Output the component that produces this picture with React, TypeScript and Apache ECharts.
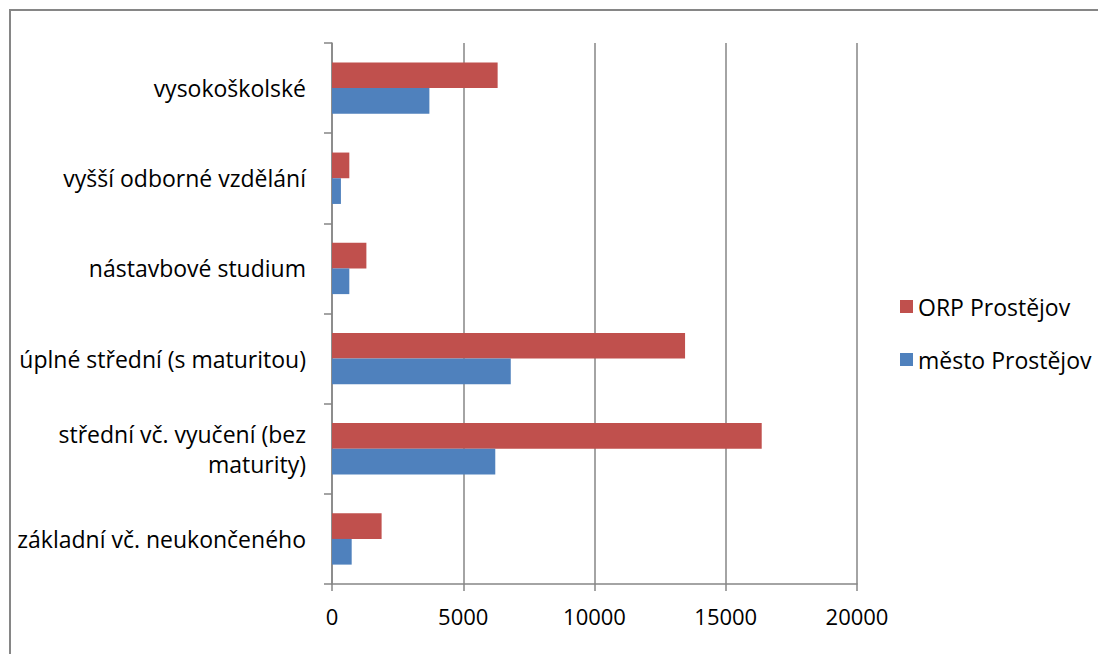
import React, { useEffect, useRef } from "react";
import * as echarts from "echarts";

const categories = [
  "základní vč. neukončeného",
  "střední vč. vyučení (bez\nmaturity)",
  "úplné střední (s maturitou)",
  "nástavbové studium",
  "vyšší odborné vzdělání",
  "vysokoškolské",
];
const orpValues = [1890, 16370, 13450, 1310, 660, 6310];
const mestoValues = [750, 6220, 6810, 660, 340, 3710];
const xTicks = { min: 0, max: 20000, interval: 5000 };

const FONT = "'Open Sans', sans-serif";
const FS = 23;
const GRAY = "#868686";

export default function App() {
  const ref = useRef<HTMLDivElement>(null);
  useEffect(() => {
    document.body.style.margin = "0";
    const chart = echarts.init(ref.current!, null, { renderer: "svg" });
    chart.setOption({
      animation: false,
      backgroundColor: "#ffffff",
      textStyle: { fontFamily: FONT },
      graphic: [
        {
          type: "rect",
          shape: { x: 10, y: 10, width: 1200, height: 800 },
          style: { fill: "none", stroke: GRAY, lineWidth: 2 },
          silent: true,
        },
      ],
      grid: { left: 332, top: 43, right: 241, bottom: 70 },
      legend: {
        orient: "vertical",
        left: 895,
        top: 290,
        itemWidth: 13,
        itemHeight: 13,
        itemGap: 30,
        icon: "rect",
        data: ["ORP Prostějov", "město Prostějov"],
        textStyle: { fontFamily: FONT, fontSize: FS, color: "#000", padding: [0, 0, 0, 0] },
      },
      xAxis: {
        type: "value",
        min: xTicks.min,
        max: xTicks.max,
        interval: xTicks.interval,
        axisLine: { show: true, lineStyle: { color: GRAY, width: 1.5 } },
        axisTick: { show: true, length: 7, lineStyle: { color: GRAY, width: 1.5 } },
        splitLine: { show: true, lineStyle: { color: GRAY, width: 1.5 } },
        axisLabel: {
          color: "#000",
          fontSize: 22,
          fontFamily: FONT,
          margin: 21,
          formatter: (v: number) => String(v),
        },
      },
      yAxis: {
        type: "category",
        data: categories,
        axisLine: { show: true, lineStyle: { color: GRAY, width: 1.5 } },
        axisTick: { show: true, length: 8, lineStyle: { color: GRAY, width: 1.5 } },
        axisLabel: {
          color: "#000",
          fontSize: FS,
          fontFamily: FONT,
          margin: 26,
          lineHeight: 30,
          align: "right",
        },
      },
      series: [
        {
          name: "ORP Prostějov",
          type: "bar",
          data: orpValues,
          itemStyle: { color: "#C0504D" },
          barGap: "0%",
          barCategoryGap: "43%",
        },
        {
          name: "město Prostějov",
          type: "bar",
          data: mestoValues,
          itemStyle: { color: "#4F81BD" },
          barGap: "0%",
          barCategoryGap: "43%",
        },
      ],
    });
    return () => chart.dispose();
  }, []);
  return <div ref={ref} style={{ width: 1098, height: 654 }} />;
}
